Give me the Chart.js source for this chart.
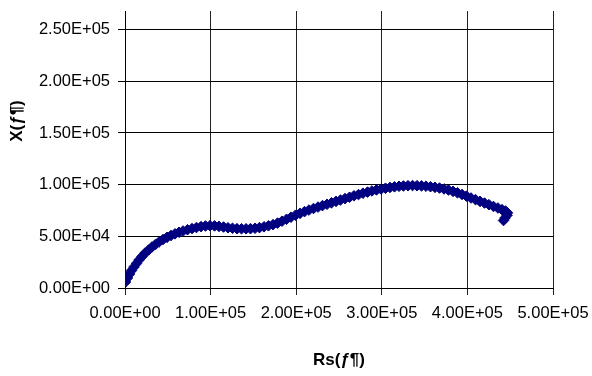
<!DOCTYPE html>
<html>
<head>
<meta charset="utf-8">
<script src="https://cdn.jsdelivr.net/npm/chart.js@4/dist/chart.umd.min.js"></script>
<style>
    body { margin: 0; background: #fff; }
    #wrap { width: 592px; height: 376px; }
</style>
</head>
<body>
<div id="wrap"><canvas id="nyquistChart" width="592" height="376"></canvas></div>
<script>
// Rs values (x)
const rsValues = [
    600, 2900, 5300, 7600, 10500, 13400, 16400, 19900, 23400, 27500,
    31500, 35600, 39700, 44400, 49100, 53700, 58400, 63100, 67800, 73000,
    78300, 83500, 88800, 94000, 99300, 104600, 109800, 115100, 120300, 125600,
    130800, 136100, 141400, 146600, 151900, 157100, 162400, 167600, 172900, 178200,
    183400, 188700, 193900, 199200, 204400, 209700, 214900, 220200, 225500, 230700,
    236000, 241200, 246500, 251700, 257000, 262300, 267500, 272800, 278000, 283300,
    288500, 293800, 299100, 304300, 309600, 314800, 320100, 325300, 330600, 335900,
    341100, 346400, 351600, 356900, 362100, 367400, 372700, 377900, 383200, 388400,
    393700, 398900, 404200, 409500, 414700, 420000, 425200, 430500, 435700, 440400,
    444500, 446800, 446300, 443900, 442200
];
// X values (y)
const xValues = [
    5800, 9700, 13500, 16900, 20300, 23700, 27100, 30500, 33800, 36700,
    39700, 42100, 44500, 46900, 49000, 50800, 52400, 53900, 55100, 56400,
    57500, 58500, 59400, 60000, 60300, 60100, 59600, 59000, 58300, 57800,
    57400, 57300, 57300, 57400, 57800, 58400, 59200, 60200, 61300, 62800,
    64600, 66500, 68500, 70400, 72200, 73900, 75400, 76900, 78300, 79700,
    81000, 82400, 83800, 85100, 86500, 87800, 89200, 90400, 91700, 92800,
    93900, 94900, 95700, 96500, 97300, 97900, 98400, 98700, 99000, 99100,
    99000, 98800, 98500, 98000, 97400, 96700, 95800, 94800, 93500, 92100,
    90500, 88900, 87100, 85500, 83800, 82200, 80600, 78900, 77400, 75800,
    74500, 72700, 70400, 67700, 65300
];
const xTicks = [0, 100000, 200000, 300000, 400000, 500000];
const yTicks = [0, 50000, 100000, 150000, 200000, 250000];
const xTitle = 'Rs(ƒ¶)';
const yTitle = 'X(ƒ¶)';

// 1.00E+05 style labels
function excelSci(v) {
    const parts = Number(v).toExponential(2).split('e');
    const sign = parts[1][0];
    const exp = parts[1].slice(1).padStart(2, '0');
    return parts[0] + 'E' + sign + exp;
}

// y title sits above the middle of the plot in the original, so draw it by hand
const yTitlePlugin = {
    id: 'yTitle',
    afterDraw(chart) {
        const ctx = chart.ctx;
        ctx.save();
        ctx.translate(17.5, 121);
        ctx.rotate(-Math.PI / 2);
        ctx.font = 'bold 17px "Liberation Sans", Arial, sans-serif';
        ctx.fillStyle = '#000';
        ctx.textAlign = 'center';
        ctx.textBaseline = 'middle';
        ctx.fillText(yTitle, 0, 0);
        ctx.restore();
    }
};

Chart.defaults.color = '#000';
Chart.defaults.font.family = '"Liberation Sans", Arial, sans-serif';

const points = rsValues.map((x, i) => ({ x: x, y: xValues[i] }));

new Chart(document.getElementById('nyquistChart').getContext('2d'), {
    type: 'scatter',
    data: {
        datasets: [{
            data: points,
            pointStyle: 'rectRot',
            pointRadius: 5.3,
            pointBorderWidth: 1,
            backgroundColor: '#000080',
            borderColor: '#000080',
            showLine: false
        }]
    },
    options: {
        responsive: false,
        animation: false,
        layout: { padding: { top: 11, right: 39, left: 0, bottom: 0 } },
        plugins: {
            legend: { display: false },
            tooltip: { enabled: false }
        },
        scales: {
            x: {
                type: 'linear',
                min: 0,
                max: 500000,
                afterBuildTicks: scale => { scale.ticks = xTicks.map(v => ({ value: v })); },
                afterFit: scale => {
                    scale.height = 88;
                    scale.paddingLeft = 0;
                    scale.paddingRight = 0;
                },
                ticks: {
                    autoSkip: false,
                    maxRotation: 0,
                    padding: 9,
                    font: { size: 16.5 },
                    callback: v => excelSci(v)
                },
                grid: { color: '#222', lineWidth: 1, tickLength: 7 },
                border: { color: '#000', width: 1 },
                title: {
                    display: true,
                    text: xTitle,
                    font: { size: 17, weight: 'bold' },
                    padding: { top: 0, bottom: 5 }
                }
            },
            y: {
                type: 'linear',
                min: 0,
                max: 268000,
                afterBuildTicks: scale => { scale.ticks = yTicks.map(v => ({ value: v })); },
                afterFit: scale => {
                    scale.width = 125;
                    scale.paddingTop = 0;
                    scale.paddingBottom = 0;
                },
                ticks: {
                    padding: 8,
                    font: { size: 16.5 },
                    callback: v => excelSci(v)
                },
                grid: { color: '#000', lineWidth: 1, tickLength: 7 },
                border: { color: '#000', width: 1 }
            }
        }
    },
    plugins: [yTitlePlugin]
});
</script>
</body>
</html>
